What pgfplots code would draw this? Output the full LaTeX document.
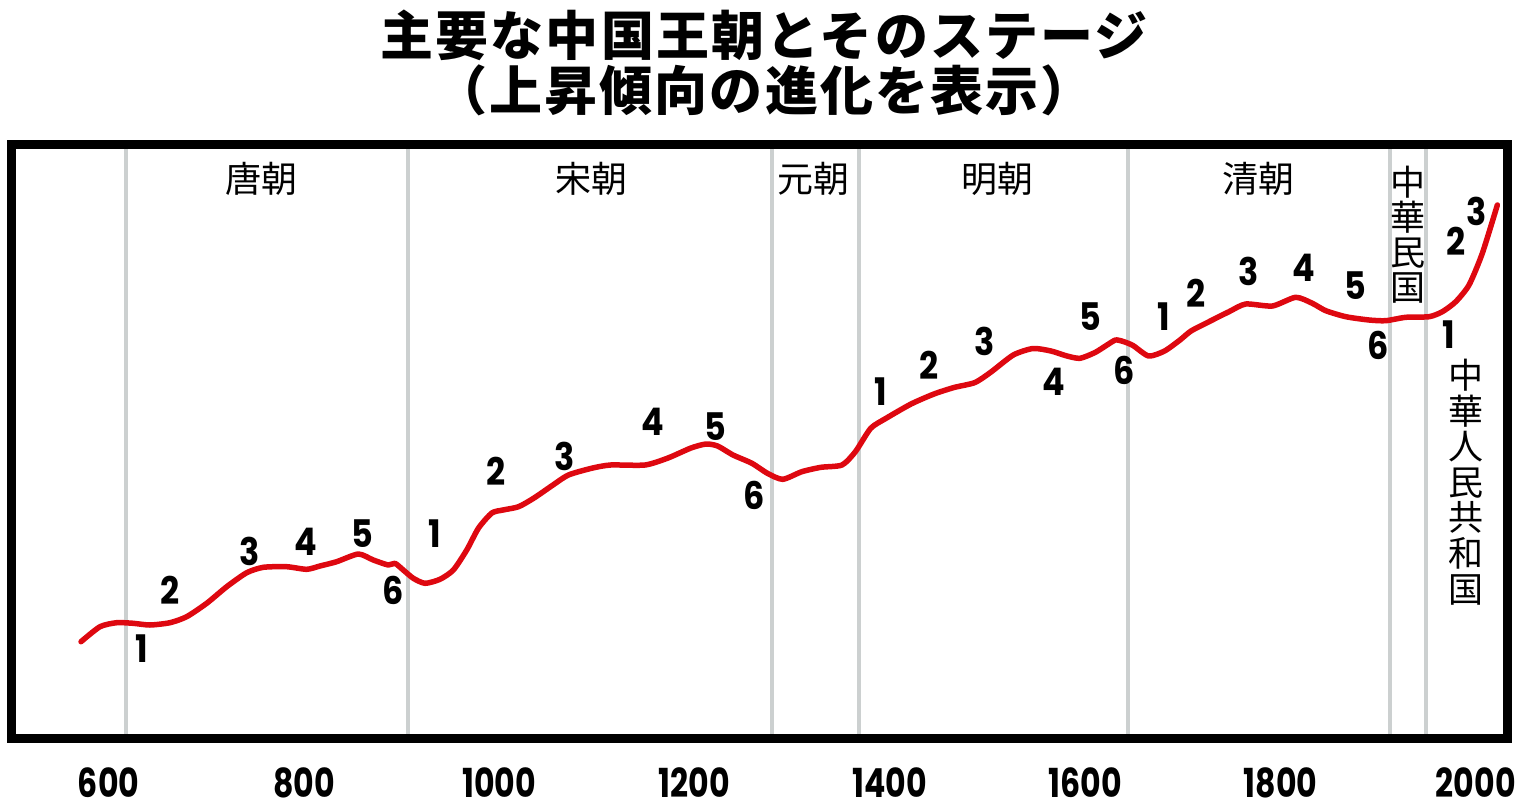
\documentclass[border=0pt]{standalone}
\usepackage{fontspec}
\usepackage{pgfplots}
\pgfplotsset{compat=1.18}
\usepackage{pgfplotstable}
\newfontfamily\jp{Noto Sans CJK JP}
\newfontfamily\jpt{Noto Sans CJK JP}[LetterSpace=4]
\newfontfamily\tickf{Poppins}[FakeStretch=0.79]
\newfontfamily\numf{Poppins}[FakeStretch=0.88]
\definecolor{curvered}{RGB}{222,8,16}
\definecolor{divgray}{RGB}{204,208,208}

\pgfplotstableread{
year val
571.7 96.3
591.1 111.3
608.2 115.3
625.2 114.7
642.3 113.0
662.8 115.3
679.9 121.3
700.4 134.7
720.9 151.3
741.4 165.3
758.4 170.7
782.3 171.3
802.8 168.7
816.4 172.0
833.5 176.3
855.7 184.0
871.0 178.0
886.4 173.0
893.2 174.7
901.7 168.0
912.0 159.7
924.0 154.7
939.3 158.7
953.0 168.0
966.7 188.0
978.8 210.0
992.4 225.0
1003.8 228.0
1019.8 231.3
1035.6 240.0
1055.0 253.0
1070.8 263.0
1094.4 269.7
1113.9 273.0
1149.3 273.0
1172.8 280.0
1196.3 290.0
1211.7 294.0
1223.6 292.0
1239.4 283.0
1258.8 274.7
1274.6 264.7
1290.3 258.7
1309.8 266.3
1329.5 270.7
1351.0 273.0
1364.7 286.3
1380.4 309.7
1396.1 319.7
1421.7 334.0
1445.2 344.0
1465.7 350.5
1487.2 355.5
1503.6 366.0
1526.4 383.0
1546.6 389.5
1565.0 387.0
1581.4 382.0
1594.7 379.7
1610.1 385.5
1622.4 393.0
1631.1 398.0
1639.0 396.5
1649.0 392.5
1665.0 382.0
1681.3 387.0
1697.1 398.0
1708.4 407.0
1726.8 416.3
1747.3 426.3
1764.4 434.0
1791.7 432.0
1815.6 440.7
1832.6 434.7
1846.4 427.3
1866.9 421.3
1890.7 418.0
1907.8 417.3
1928.3 420.7
1952.2 421.3
1965.8 426.3
1979.5 436.3
1993.1 453.0
2006.7 484.7
2022.1 533.0
}\curve

\pgfplotstableread{
year val lab
633.8 89.7 1
662.8 148.0 2
744.8 186.3 3
802.1 196.3 4
860.2 204.7 5
890.9 148.0 6
934.2 204.7 1
996.4 266.3 2
1066.9 281.3 3
1157.0 316.3 4
1221.7 311.3 5
1260.9 243.0 6
1390.6 346.3 1
1440.4 373.0 2
1496.7 396.3 3
1567.4 356.3 4
1605.7 421.3 5
1639.8 368.0 6
1680.7 421.3 1
1713.8 444.7 2
1767.8 466.3 3
1824.1 469.7 4
1876.4 452.0 5
1899.9 393.0 6
1972.6 403.0 1
1979.6 496.3 2
2000.6 526.3 3
}\stages

\begin{document}
\begin{tikzpicture}
\path[use as bounding box] (0,0) rectangle (759.5pt,405.5pt);
\node[font=\jpt\bfseries\fontsize{26.5pt}{26.5pt}\selectfont, anchor=center, inner sep=0pt] at (382pt,388pt) {主要な中国王朝とそのステージ};
\node[font=\jpt\bfseries\fontsize{26.5pt}{26.5pt}\selectfont, anchor=center, inner sep=0pt] at (382pt,360.5pt) {（上昇傾向の進化を表示）};
\begin{axis}[
  at={(5.5pt,36.5pt)}, anchor=south west,
  scale only axis, width=748pt, height=296.75pt,
  xmin=500, xmax=2032, ymin=0, ymax=593.5,
  axis line style={line width=4.5pt, black, line join=miter},
  xtick={600,800,1000,1200,1400,1600,1800,2000},
  xticklabels={600,800,1000,1200,1400,1600,1800,2000},
  xtick style={draw=none}, ytick=\empty,
  major tick length=0pt,
  xticklabel style={font=\tickf\bfseries\fontsize{20pt}{20pt}\selectfont, anchor=base, inner sep=0pt, yshift=-29.5pt},
  axis on top,
  clip=false,
]
\addplot[divgray, line width=2pt] coordinates {(618,0) (618,593.5)};
\addplot[divgray, line width=2pt] coordinates {(907,0) (907,593.5)};
\addplot[divgray, line width=2pt] coordinates {(1279,0) (1279,593.5)};
\addplot[divgray, line width=2pt] coordinates {(1368,0) (1368,593.5)};
\addplot[divgray, line width=2pt] coordinates {(1644,0) (1644,593.5)};
\addplot[divgray, line width=2pt] coordinates {(1912,0) (1912,593.5)};
\addplot[divgray, line width=2pt] coordinates {(1949,0) (1949,593.5)};

\addplot[curvered, line width=2.75pt, smooth, tension=0.4, line join=round, line cap=round] table[x=year,y=val]{\curve};

\addplot[draw=none, mark=none, nodes near coords, point meta=explicit symbolic,
  nodes near coords align={center},
  every node near coord/.append style={font=\numf\bfseries\fontsize{19pt}{19pt}\selectfont, inner sep=0pt, anchor=center, black}]
  table[x=year,y=val,meta=lab]{\stages};

\node[font=\jp\fontsize{18pt}{18pt}\selectfont, inner sep=0pt] at (axis cs:757,559) {唐朝};
\node[font=\jp\fontsize{18pt}{18pt}\selectfont, inner sep=0pt] at (axis cs:1094,559) {宋朝};
\node[font=\jp\fontsize{18pt}{18pt}\selectfont, inner sep=0pt] at (axis cs:1322,559) {元朝};
\node[font=\jp\fontsize{18pt}{18pt}\selectfont, inner sep=0pt] at (axis cs:1510,559) {明朝};
\node[font=\jp\fontsize{18pt}{18pt}\selectfont, inner sep=0pt] at (axis cs:1778,559) {清朝};
\node[font=\jp\fontsize{17.5pt}{17.5pt}\selectfont, inner sep=0pt, align=center] at (axis cs:1930.6,503) {中\\華\\民\\国};
\node[font=\jp\fontsize{17.5pt}{17.8pt}\selectfont, inner sep=0pt, align=center] at (axis cs:1989.5,256) {中\\華\\人\\民\\共\\和\\国};
\end{axis}
\end{tikzpicture}
\end{document}
